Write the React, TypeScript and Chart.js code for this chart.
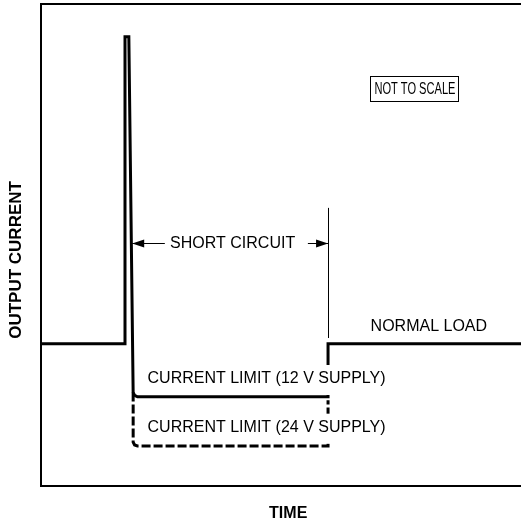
import { useEffect, useRef } from "react";
import { Chart, registerables } from "chart.js";

Chart.register(...registerables);

// Output current trace, 12 V supply (solid) – arbitrary units, not to scale
const time12V = [0, 17.5, 17.5, 18.3, 19.2, 19.5, 20.1, 59.8, 59.8, 100];
const current12V = [29.5, 29.5, 93.2, 93.2, 19.4, 18.8, 18.5, 18.5, 29.5, 29.5];

// Output current trace, 24 V supply (dashed)
const time24V = [19.2, 19.2, 19.5, 20.1, 59.8, 59.8];
const current24V = [19.4, 9.1, 8.5, 8.3, 8.3, 17.8];

// Short-circuit interval markers
const shortCircuitStart = 19.0;
const shortCircuitEnd = 59.8;
const shortCircuitLevel = 50.4;
const markerTop = 57.7;
const markerBottom = 30.7;

// Texts
const axisTitleX = "TIME";
const axisTitleY = "OUTPUT CURRENT";
const labelShort = "SHORT CIRCUIT";
const labelNormal = "NORMAL LOAD";
const label12V = "CURRENT LIMIT (12 V SUPPLY)";
const label24V = "CURRENT LIMIT (24 V SUPPLY)";
const labelScale = "NOT TO SCALE";

const FONT = "16px 'Liberation Sans', Arial, Helvetica, sans-serif";
const BOLD = "bold 16px 'Liberation Sans', Arial, Helvetica, sans-serif";
const BOLD_Y = "bold 17px 'Liberation Sans', Arial, Helvetica, sans-serif";

const annotations = {
  id: "annotations",
  afterDatasetsDraw(chart: any) {
    const ctx: CanvasRenderingContext2D = chart.ctx;
    const xs = chart.scales.x;
    const ys = chart.scales.y;
    const ca = chart.chartArea;
    const X = (v: number) => xs.getPixelForValue(v);
    const Y = (v: number) => ys.getPixelForValue(v);
    ctx.save();
    ctx.fillStyle = "#000";
    ctx.strokeStyle = "#000";

    // marker line at end of short circuit
    ctx.lineWidth = 1;
    ctx.beginPath();
    ctx.moveTo(Math.round(X(shortCircuitEnd)) + 0.5, Y(markerTop));
    ctx.lineTo(Math.round(X(shortCircuitEnd)) + 0.5, Y(markerBottom));
    ctx.stroke();

    // short circuit arrow
    const ay = Math.round(Y(shortCircuitLevel)) + 0.5;
    const xl = X(shortCircuitStart);
    const xr = X(shortCircuitEnd);
    ctx.font = FONT;
    ctx.textBaseline = "middle";
    ctx.textAlign = "left";
    ctx.fillText(labelShort, X(26.9), ay);
    ctx.beginPath();
    ctx.moveTo(xl, ay);
    ctx.lineTo(X(25.8), ay);
    ctx.moveTo(X(55.6), ay);
    ctx.lineTo(xr, ay);
    ctx.stroke();
    const head = (tip: number, dir: number) => {
      ctx.beginPath();
      ctx.moveTo(tip, ay);
      ctx.lineTo(tip + dir * 12, ay - 4);
      ctx.lineTo(tip + dir * 12, ay + 4);
      ctx.closePath();
      ctx.fill();
    };
    head(xl, 1);
    head(xr, -1);

    // labels (current-limit labels sit on a white background over the traces)
    const boxed = (text: string, x: number, y: number, align: CanvasTextAlign, bg: boolean) => {
      const w = ctx.measureText(text).width;
      const left = align === "center" ? x - w / 2 : x;
      if (bg) {
        ctx.fillStyle = "#fff";
        ctx.fillRect(left - 3, y - 14, w + 6, 30);
      }
      ctx.fillStyle = "#000";
      ctx.textAlign = align;
      ctx.fillText(text, x, y);
    };
    boxed(labelNormal, X(80.8), Y(33.0), "center", false);
    boxed(label12V, X(22.2), Y(22.2), "left", true);
    boxed(label24V, X(22.2), Y(12.1), "left", true);

    // NOT TO SCALE box (condensed text)
    const sx = X(77.9);
    const sy = Y(82.5);
    const sw = 81;
    ctx.font = "16px 'Liberation Sans', Arial, Helvetica, sans-serif";
    ctx.textAlign = "center";
    ctx.fillText(labelScale, sx, sy + 1, sw);
    ctx.lineWidth = 1;
    ctx.strokeRect(Math.round(sx - sw / 2 - 4) + 0.5, Math.round(sy - 12) + 0.5, sw + 7, 25);

    // axis titles
    ctx.font = BOLD;
    ctx.textAlign = "center";
    ctx.fillText(axisTitleX, X(51.5), ca.bottom + 28);
    ctx.save();
    ctx.font = BOLD_Y;
    ctx.translate(ca.left - 25, Y(46.9));
    ctx.rotate(-Math.PI / 2);
    ctx.fillText(axisTitleY, 0, 0);
    ctx.restore();

    ctx.restore();
  },
};

export default function App() {
  const ref = useRef<HTMLCanvasElement | null>(null);
  useEffect(() => {
    if (!ref.current) return;
    const toPts = (xs: number[], ys: number[]) => xs.map((x, i) => ({ x, y: ys[i] }));
    const axisBase = {
      type: "linear" as const,
      min: 0,
      max: 100,
      ticks: { display: false },
      grid: { display: false, drawTicks: false },
      border: { display: true, color: "#000", width: 2 },
    };
    const chart = new Chart(ref.current, {
      type: "line",
      data: {
        datasets: [
          {
            data: toPts(time12V, current12V),
            borderColor: "#000",
            borderWidth: 3,
            pointRadius: 0,
            tension: 0,
            fill: false,
          },
          {
            data: toPts(time24V, current24V),
            borderColor: "#000",
            borderWidth: 3,
            borderDash: [9, 3],
            pointRadius: 0,
            tension: 0,
            fill: false,
          },
        ],
      },
      options: {
        animation: false,
        responsive: false,
        events: [],
        layout: { padding: { left: 41, top: 4, right: 0, bottom: 36 } },
        plugins: { legend: { display: false }, tooltip: { enabled: false } },
        scales: {
          x: { ...axisBase, position: "bottom" },
          x2: { ...axisBase, position: "top" },
          y: { ...axisBase, position: "left" },
        },
      },
      plugins: [annotations],
    });
    return () => chart.destroy();
  }, []);
  return (
    <div style={{ position: "fixed", left: 0, top: 0, width: 521, height: 522, background: "#fff" }}>
      <canvas ref={ref} width={521} height={522} style={{ display: "block" }} />
    </div>
  );
}
